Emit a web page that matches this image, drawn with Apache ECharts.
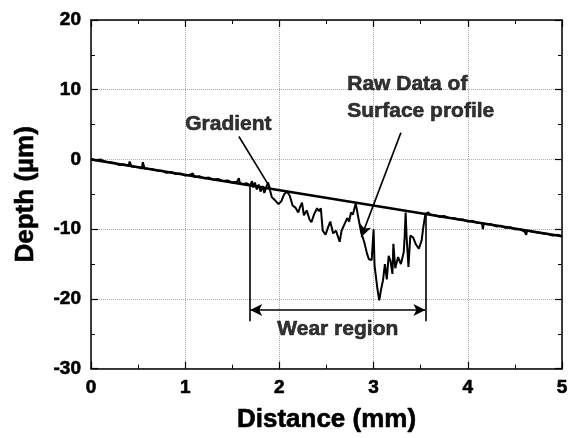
<!DOCTYPE html>
<html>
<head>
<meta charset="utf-8">
<script src="https://cdn.jsdelivr.net/npm/echarts@6/dist/echarts.min.js"></script>
<style>
  html, body { margin: 0; padding: 0; background: #fff; }
  #chart { width: 572px; height: 438px; }
</style>
</head>
<body>
<div id="chart"></div>
<script>
// axis ranges
const xRange = [0, 5];
const yRange = [-30, 20];

// fitted gradient line (mm, um)
const gradientLine = [[0, 0], [5, -11]];

// raw surface profile, left of the wear region
const profileLeft = [
  [0, 0.1], [0.05, -0.1], [0.1, 0.0], [0.15, -0.3], [0.2, -0.4], [0.25, -0.5],
  [0.3, -0.8], [0.35, -0.7], [0.4, -0.9], [0.41, -0.3], [0.43, -1.0], [0.5, -1.1],
  [0.54, -1.3], [0.55, -0.4], [0.57, -1.3], [0.65, -1.4], [0.7, -1.6], [0.75, -1.6],
  [0.8, -1.9], [0.85, -1.8], [0.9, -2.1], [0.95, -2.0], [1.0, -2.3], [1.05, -2.2],
  [1.08, -2.0], [1.1, -2.5], [1.15, -2.4], [1.2, -2.7], [1.25, -2.6], [1.3, -2.9],
  [1.35, -2.8], [1.4, -3.1], [1.45, -3.0], [1.5, -3.3], [1.55, -3.2], [1.57, -2.7],
  [1.58, -3.4], [1.62, -3.5], [1.65, -3.4]
];

// raw surface profile inside the wear region
const profileWear = [
  [1.69, -3.7], [1.71, -3.1], [1.72, -4.0], [1.74, -3.3], [1.76, -4.3], [1.78, -3.6],
  [1.80, -4.6], [1.82, -3.8], [1.84, -4.8], [1.86, -4.0], [1.88, -3.3], [1.90, -4.4],
  [1.92, -5.4], [1.95, -5.8], [1.99, -6.4], [2.02, -6.0], [2.05, -5.0], [2.08, -4.6],
  [2.11, -5.2], [2.14, -6.6], [2.17, -6.9], [2.20, -7.6], [2.22, -6.8], [2.24, -6.2],
  [2.26, -8.0], [2.29, -7.3], [2.32, -8.6], [2.34, -9.0], [2.37, -7.8], [2.40, -7.0],
  [2.42, -7.4], [2.44, -7.0], [2.46, -10.2], [2.49, -10.8], [2.52, -9.6], [2.54, -8.9],
  [2.57, -10.6], [2.60, -10.2], [2.62, -11.0], [2.64, -11.8], [2.66, -10.2], [2.69, -9.3],
  [2.72, -8.4], [2.74, -8.9], [2.76, -7.6], [2.78, -7.9], [2.81, -6.3], [2.84, -8.5],
  [2.87, -10.6], [2.90, -11.8], [2.93, -13.5], [2.95, -14.3], [2.98, -14.4], [3.00, -10.0],
  [3.01, -15.2], [3.04, -18.5], [3.06, -20.2], [3.08, -18.6], [3.10, -17.3], [3.12, -15.0],
  [3.14, -17.2], [3.16, -13.8], [3.18, -14.6], [3.20, -16.4], [3.21, -12.1], [3.23, -15.6],
  [3.26, -14.0], [3.29, -15.0], [3.32, -13.3], [3.33, -11.0], [3.34, -7.6], [3.35, -11.0],
  [3.37, -15.4], [3.39, -10.9], [3.42, -11.2], [3.45, -12.2], [3.48, -12.8], [3.51, -11.6],
  [3.53, -9.5], [3.55, -7.8]
];

// raw surface profile, right of the wear region
const profileRight = [
  [3.58, -7.6], [3.6, -7.9], [3.65, -8.0], [3.7, -8.2], [3.75, -8.1], [3.8, -8.4],
  [3.85, -8.4], [3.9, -8.6], [3.95, -8.6], [4.0, -8.9], [4.05, -8.8], [4.1, -9.1],
  [4.15, -9.1], [4.16, -10.0], [4.17, -9.2], [4.2, -9.3], [4.25, -9.3], [4.3, -9.6],
  [4.35, -9.5], [4.4, -9.8], [4.45, -9.7], [4.5, -10.0], [4.55, -10.0], [4.6, -10.3],
  [4.62, -10.8], [4.63, -10.2], [4.7, -10.4], [4.75, -10.5], [4.8, -10.6], [4.85, -10.7],
  [4.9, -10.9], [4.95, -10.8], [5.0, -11.0]
];

// wear region bounds and arrow level
const wearStart = [1.69, -3.7];
const wearEnd = [3.55, -7.8];
const wearBottom = -23.2;
const wearArrowY = -21.6;

// annotation texts and pointers
const notes = [
  { text: 'Gradient', coord: [1.0, 5.1], align: 'left' },
  { text: 'Raw Data of\nSurface profile', coord: [2.72, 8.9], align: 'left' },
  { text: 'Wear region', coord: [2.62, -24.4], align: 'center' }
];
const gradientPointer = [[1.57, 3.3], [1.90, -4.0]];
const rawPointer = [[3.29, 3.85], [2.87, -11.1]];

const font = "'Liberation Sans', Arial, Helvetica, sans-serif";
// bold scanned-looking text: bold face plus a thin stroke
const heavy = { fontFamily: font, fontWeight: 'bold', color: '#000', textBorderColor: '#000', textBorderWidth: 0.6 };
const chart = echarts.init(document.getElementById('chart'));

function axisCommon() {
  return {
    axisLine: { show: true, onZero: false, lineStyle: { color: '#000', width: 1.5 } },
    axisTick: { show: true, inside: true, length: 7, lineStyle: { color: '#000', width: 1.2 } },
    minorTick: { show: true, splitNumber: 2, length: 4, lineStyle: { color: '#000', width: 1 } },
    splitLine: { show: false }
  };
}

const xMain = Object.assign(axisCommon(), {
  type: 'value', min: xRange[0], max: xRange[1], interval: 1, position: 'bottom',
  name: 'Distance (mm)', nameLocation: 'middle', nameGap: 38,
  nameTextStyle: Object.assign({ fontSize: 26 }, heavy),
  axisLabel: Object.assign({ margin: 10, fontSize: 19 }, heavy),
  splitLine: { show: true, lineStyle: { color: '#aaa', type: 'dotted', width: 1 } }
});
const xTop = Object.assign(axisCommon(), {
  type: 'value', min: xRange[0], max: xRange[1], interval: 1, position: 'top',
  axisLabel: { show: false }
});
const yMain = Object.assign(axisCommon(), {
  type: 'value', min: yRange[0], max: yRange[1], interval: 10, position: 'left',
  name: 'Depth (\u00b5m)', nameLocation: 'middle', nameGap: 52,
  nameTextStyle: Object.assign({ fontSize: 26 }, heavy),
  axisLabel: Object.assign({ margin: 10, fontSize: 19 }, heavy),
  splitLine: { show: true, lineStyle: { color: '#aaa', type: 'dotted', width: 1 } }
});
const yRight = Object.assign(axisCommon(), {
  type: 'value', min: yRange[0], max: yRange[1], interval: 10, position: 'right',
  axisLabel: { show: false }
});

function seg(a, b, startSym, endSym) {
  return [
    { coord: a, symbol: startSym || 'none' },
    { coord: b, symbol: endSym || 'none' }
  ];
}

const option = {
  animation: false,
  backgroundColor: '#fff',
  grid: { left: 91, right: 10, top: 20, bottom: 67 },
  xAxis: [xMain, xTop],
  yAxis: [yMain, yRight],
  series: [
    {
      name: 'Raw profile', type: 'line', showSymbol: false,
      data: profileLeft.concat(profileWear, profileRight),
      lineStyle: { color: '#000', width: 2 }
    },
    {
      name: 'Gradient', type: 'line', showSymbol: false, data: gradientLine,
      lineStyle: { color: '#000', width: 2.4 },
      markLine: {
        silent: true, symbol: ['none', 'none'], symbolSize: [9, 12],
        label: { show: false },
        lineStyle: { color: '#000', width: 1.6, type: 'solid' },
        data: [
          seg(gradientPointer[0], gradientPointer[1]),
          seg(rawPointer[0], rawPointer[1], 'none', 'arrow'),
          seg(wearStart, [wearStart[0], wearBottom]),
          seg(wearEnd, [wearEnd[0], wearBottom]),
          seg([wearStart[0], wearArrowY], [wearEnd[0], wearArrowY], 'arrow', 'arrow')
        ]
      }
    },
    {
      name: 'Notes', type: 'scatter', symbolSize: 0, silent: true,
      data: notes.map(n => ({
        value: n.coord,
        label: Object.assign({
          show: true, position: 'inside', formatter: n.text, align: n.align,
          verticalAlign: 'middle', fontSize: 21, lineHeight: 27
        }, heavy)
      }))
    }
  ]
};

chart.setOption(option);
</script>
</body>
</html>
